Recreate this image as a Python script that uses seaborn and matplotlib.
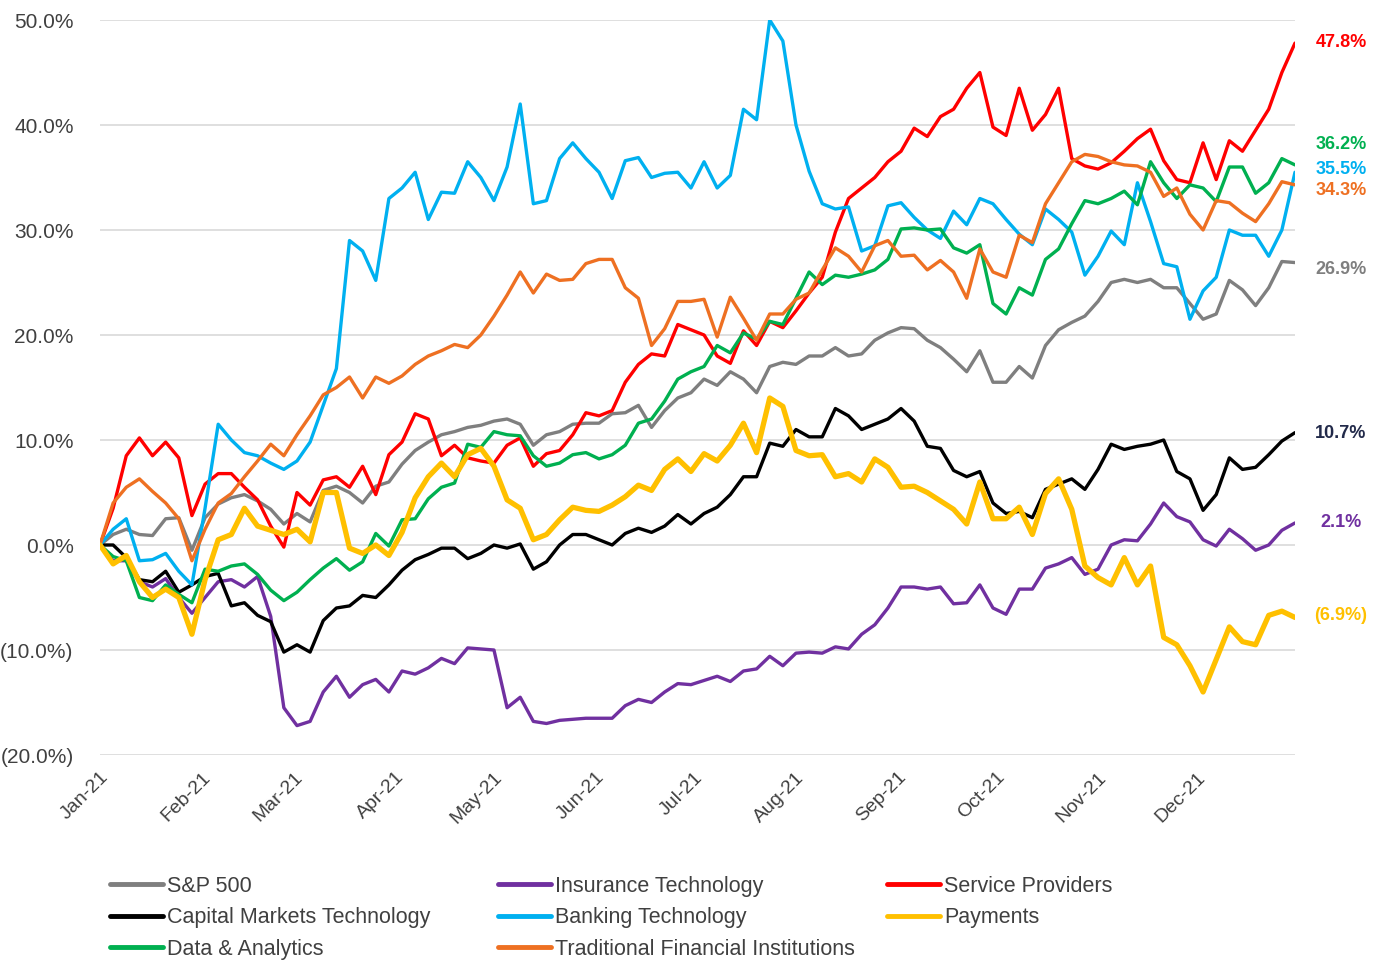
import numpy as np
import pandas as pd
import seaborn as sns
import matplotlib.pyplot as plt
import matplotlib.dates as mdates
import matplotlib.transforms as mtransforms
from matplotlib.lines import Line2D
from matplotlib.ticker import FuncFormatter

# Sample dates (every 4 days through 2021)
dates = pd.date_range("2021-01-01", periods=92, freq="4D")

# Cumulative returns (%)
sp500 = [0, 1.0, 1.5, 1.0, 0.9, 2.5, 2.6, -0.5, 2.6, 3.9, 4.5, 4.8,
         4.2, 3.4, 2.0, 3.0, 2.2, 5.2, 5.6, 5.0, 4.0, 5.6, 6.0, 7.7,
         9.0, 9.8, 10.5, 10.8, 11.2, 11.4, 11.8, 12.0, 11.5, 9.5, 10.5,
         10.8, 11.5, 11.6, 11.6, 12.5, 12.6, 13.3, 11.2, 12.8, 14.0, 14.5,
         15.8, 15.2, 16.5, 15.8, 14.5, 17.0, 17.4, 17.2, 18.0, 18.0, 18.8, 18.0,
         18.2, 19.5, 20.2, 20.7, 20.6, 19.5, 18.8, 17.7, 16.5, 18.5, 15.5, 15.5,
         17.0, 15.9, 19.0, 20.5, 21.2, 21.8, 23.2, 25.0, 25.3, 25.0, 25.3,
         24.5, 24.5, 23.0, 21.5, 22.0, 25.2, 24.3, 22.8, 24.5, 27.0, 26.9]

insurance_tech = [0, -1.5, -1.5, -3.5, -4.0, -3.2, -5.0, -6.5, -5.0, -3.5, -3.3, -4.0,
                  -3.0, -6.8, -15.5, -17.2, -16.8, -14.0, -12.5, -14.5, -13.3, -12.8, -14.0, -12.0,
                  -12.3, -11.7, -10.8, -11.3, -9.8, -9.9, -10.0, -15.5, -14.5, -16.8, -17.0,
                  -16.7, -16.6, -16.5, -16.5, -16.5, -15.3, -14.7, -15.0, -14.0, -13.2, -13.3,
                  -12.9, -12.5, -13.0, -12.0, -11.8, -10.6, -11.5, -10.3, -10.2, -10.3, -9.7, -9.9,
                  -8.5, -7.6, -6.0, -4.0, -4.0, -4.2, -4.0, -5.6, -5.5, -3.8, -6.0, -6.6,
                  -4.2, -4.2, -2.2, -1.8, -1.2, -2.8, -2.3, 0.0, 0.5, 0.4, 2.0,
                  4.0, 2.7, 2.2, 0.5, -0.1, 1.5, 0.6, -0.5, 0.0, 1.4, 2.1]

service_providers = [0, 3.5, 8.5, 10.2, 8.5, 9.8, 8.3, 2.8, 5.8, 6.8, 6.8, 5.5,
                     4.3, 1.8, -0.2, 5.0, 3.8, 6.2, 6.5, 5.5, 7.5, 4.8, 8.6, 9.8,
                     12.5, 12.0, 8.5, 9.5, 8.3, 8.0, 7.8, 9.5, 10.2, 7.5, 8.7,
                     9.0, 10.5, 12.6, 12.3, 12.8, 15.5, 17.2, 18.2, 18.0, 21.0, 20.5,
                     20.0, 18.0, 17.3, 20.4, 19.0, 21.3, 20.7, 22.3, 24.0, 25.5, 29.8, 33.0,
                     34.0, 35.0, 36.5, 37.5, 39.7, 38.9, 40.8, 41.5, 43.5, 45.0, 39.8, 39.0,
                     43.5, 39.5, 41.0, 43.5, 36.8, 36.1, 35.8, 36.4, 37.5, 38.7, 39.6,
                     36.6, 34.8, 34.5, 38.3, 34.8, 38.5, 37.5, 39.5, 41.5, 45.0, 47.8]

capital_markets = [0, 0.0, -1.2, -3.3, -3.5, -2.5, -4.5, -3.8, -3.0, -2.7, -5.8, -5.5,
                   -6.7, -7.3, -10.2, -9.5, -10.2, -7.2, -6.0, -5.8, -4.8, -5.0, -3.8, -2.4,
                   -1.4, -0.9, -0.3, -0.3, -1.3, -0.8, 0.0, -0.3, 0.1, -2.3, -1.6,
                   0.0, 1.0, 1.0, 0.5, 0.0, 1.1, 1.6, 1.2, 1.8, 2.9, 2.0,
                   3.0, 3.6, 4.8, 6.5, 6.5, 9.7, 9.4, 11.0, 10.3, 10.3, 13.0, 12.3,
                   11.0, 11.5, 12.0, 13.0, 11.8, 9.4, 9.2, 7.1, 6.5, 7.0, 4.0, 3.0,
                   3.2, 2.6, 5.3, 5.8, 6.3, 5.3, 7.2, 9.6, 9.1, 9.4, 9.6,
                   10.0, 7.0, 6.3, 3.3, 4.8, 8.3, 7.2, 7.4, 8.6, 9.9, 10.7]

banking_tech = [0, 1.5, 2.5, -1.5, -1.4, -0.8, -2.5, -3.8, 3.5, 11.5, 10.0, 8.8,
                8.5, 7.8, 7.2, 8.0, 9.8, 13.3, 16.8, 29.0, 28.0, 25.2, 33.0, 34.0,
                35.5, 31.0, 33.6, 33.5, 36.5, 35.0, 32.8, 36.0, 42.0, 32.5, 32.8,
                36.8, 38.3, 36.8, 35.5, 33.0, 36.6, 36.9, 35.0, 35.4, 35.5, 34.0,
                36.5, 34.0, 35.2, 41.5, 40.5, 50.0, 48.0, 40.0, 35.6, 32.5, 32.0, 32.2,
                28.0, 28.5, 32.3, 32.6, 31.2, 30.0, 29.2, 31.8, 30.5, 33.0, 32.5, 31.0,
                29.6, 28.6, 32.0, 31.0, 29.8, 25.7, 27.5, 29.9, 28.6, 34.5, 30.8,
                26.8, 26.5, 21.5, 24.2, 25.5, 30.0, 29.5, 29.5, 27.5, 30.0, 35.5]

payments = [0, -1.8, -1.0, -3.5, -5.0, -4.2, -5.0, -8.5, -3.3, 0.5, 1.0, 3.5,
            1.8, 1.4, 1.0, 1.5, 0.3, 5.0, 5.0, -0.3, -0.8, 0.0, -1.0, 1.2,
            4.5, 6.5, 7.8, 6.5, 8.6, 9.2, 7.5, 4.3, 3.5, 0.5, 1.0,
            2.4, 3.6, 3.3, 3.2, 3.8, 4.6, 5.7, 5.2, 7.2, 8.2, 7.0,
            8.7, 8.0, 9.5, 11.6, 8.8, 14.0, 13.2, 9.0, 8.5, 8.6, 6.5, 6.8,
            6.0, 8.2, 7.4, 5.5, 5.6, 5.0, 4.2, 3.4, 2.0, 6.0, 2.5, 2.5,
            3.6, 1.0, 4.9, 6.3, 3.4, -2.0, -3.1, -3.8, -1.2, -3.8, -2.0,
            -8.8, -9.5, -11.5, -14.0, -10.9, -7.8, -9.2, -9.5, -6.7, -6.3, -6.9]

data_analytics = [0, -1.1, -1.5, -5.0, -5.3, -3.8, -4.7, -5.5, -2.3, -2.5, -2.0, -1.8,
                  -2.8, -4.3, -5.3, -4.5, -3.3, -2.2, -1.3, -2.4, -1.6, 1.1, -0.1, 2.4,
                  2.5, 4.4, 5.5, 5.9, 9.6, 9.3, 10.8, 10.5, 10.4, 8.5, 7.5,
                  7.8, 8.6, 8.8, 8.2, 8.6, 9.5, 11.6, 12.0, 13.7, 15.8, 16.5,
                  17.0, 19.0, 18.3, 20.2, 19.6, 21.3, 21.0, 23.5, 26.0, 24.8, 25.7, 25.5,
                  25.8, 26.2, 27.2, 30.1, 30.2, 30.0, 30.1, 28.3, 27.8, 28.6, 23.0, 22.0,
                  24.5, 23.8, 27.2, 28.2, 30.6, 32.8, 32.5, 33.0, 33.7, 32.4, 36.5,
                  34.5, 33.0, 34.3, 34.0, 32.7, 36.0, 36.0, 33.5, 34.5, 36.8, 36.2]

traditional_fi = [0, 4.0, 5.5, 6.3, 5.1, 4.0, 2.5, -1.5, 1.5, 4.0, 4.9, 6.5,
                  8.0, 9.6, 8.5, 10.5, 12.3, 14.3, 15.0, 16.0, 14.0, 16.0, 15.4, 16.1,
                  17.2, 18.0, 18.5, 19.1, 18.8, 20.0, 21.8, 23.8, 26.0, 24.0, 25.8,
                  25.2, 25.3, 26.8, 27.2, 27.2, 24.5, 23.5, 19.0, 20.6, 23.2, 23.2,
                  23.4, 19.8, 23.6, 21.6, 19.5, 22.0, 22.0, 23.4, 24.0, 26.2, 28.3, 27.5,
                  26.0, 28.5, 29.0, 27.5, 27.6, 26.2, 27.1, 26.0, 23.5, 28.2, 26.0, 25.5,
                  29.5, 28.8, 32.5, 34.5, 36.5, 37.2, 37.0, 36.5, 36.2, 36.1, 35.5,
                  33.2, 34.0, 31.5, 30.0, 32.8, 32.6, 31.6, 30.8, 32.5, 34.6, 34.3]

# name, values, colour, line width, end-label colour, end-label height
series = [
    ("S&P 500", sp500, "#7F7F7F", 2.4, "#7F7F7F", 26.2),
    ("Insurance Technology", insurance_tech, "#7030A0", 2.4, "#7030A0", 2.1),
    ("Service Providers", service_providers, "#FF0000", 2.4, "#FF0000", 47.9),
    ("Capital Markets Technology", capital_markets, "#000000", 2.4, "#222A4A", 10.6),
    ("Banking Technology", banking_tech, "#00B0F0", 2.4, "#00B0F0", 35.8),
    ("Data & Analytics", data_analytics, "#00B050", 2.4, "#00B050", 38.1),
    ("Traditional Financial Institutions", traditional_fi, "#EE7022", 2.4, "#EE7022", 33.8),
    ("Payments", payments, "#FFC000", 3.8, "#FFC000", -6.7),
]

sns.set_theme(style="white")
plt.rcParams['font.family'] = ['Liberation Sans', 'DejaVu Sans']
text_color = "#404040"

fig = plt.figure(figsize=(13.78, 9.63), dpi=100)
ax = fig.add_axes([100 / 1378, 1 - 755 / 963, 1195 / 1378, 735 / 963])

for name, vals, color, lw, _, _ in series:
    sns.lineplot(x=dates, y=vals, color=color, linewidth=lw, ax=ax, legend=False)

ax.set_xlim(dates[0], dates[-1])
ax.set_ylim(-20, 50)
ax.set_yticks(np.arange(-20, 51, 10))
ax.yaxis.set_major_formatter(FuncFormatter(
    lambda v, p: f"{v:.1f}%" if v >= 0 else f"({abs(v):.1f}%)"))
ax.grid(True, axis='y', color="#D9D9D9", linewidth=1.2)
ax.grid(False, axis='x')
ax.set_axisbelow(True)
for s in ax.spines.values():
    s.set_visible(False)

ax.xaxis.set_major_locator(mdates.MonthLocator())
ax.xaxis.set_major_formatter(mdates.DateFormatter("%b-%y"))
ax.tick_params(axis='x', length=0, pad=10, labelsize=14, labelcolor=text_color)
ax.tick_params(axis='y', length=0, pad=19, labelsize=15, labelcolor=text_color)
for lbl in ax.get_xticklabels():
    lbl.set_rotation(45)
    lbl.set_ha('right')
    lbl.set_rotation_mode('anchor')
ax.set_xlabel("")
ax.set_ylabel("")

# End-of-year labels
trans = mtransforms.blended_transform_factory(fig.transFigure, ax.transData)
for name, vals, color, lw, lcolor, ly in series:
    v = vals[-1]
    txt = f"{v:.1f}%" if v >= 0 else f"({abs(v):.1f}%)"
    ax.text(1341 / 1378, ly, txt, transform=trans, ha='center', va='center',
            fontsize=13, fontweight='bold', color=lcolor, clip_on=False)

# Legend in three columns
lookup = {s[0]: s for s in series}
columns = [
    (110, ["S&P 500", "Capital Markets Technology", "Data & Analytics"]),
    (498, ["Insurance Technology", "Banking Technology", "Traditional Financial Institutions"]),
    (887, ["Service Providers", "Payments"]),
]
for x0, names in columns:
    handles = [Line2D([], [], color=lookup[n][2], linewidth=3.5) for n in names]
    fig.legend(handles, names, loc='upper left', bbox_to_anchor=(x0 / 1378, 1 - 876 / 963),
               frameon=False, fontsize=15.5, handlelength=2.45, handletextpad=0.22,
               labelspacing=0.48, borderpad=0, borderaxespad=0, labelcolor=text_color)

fig.savefig("out.png", dpi=100)
